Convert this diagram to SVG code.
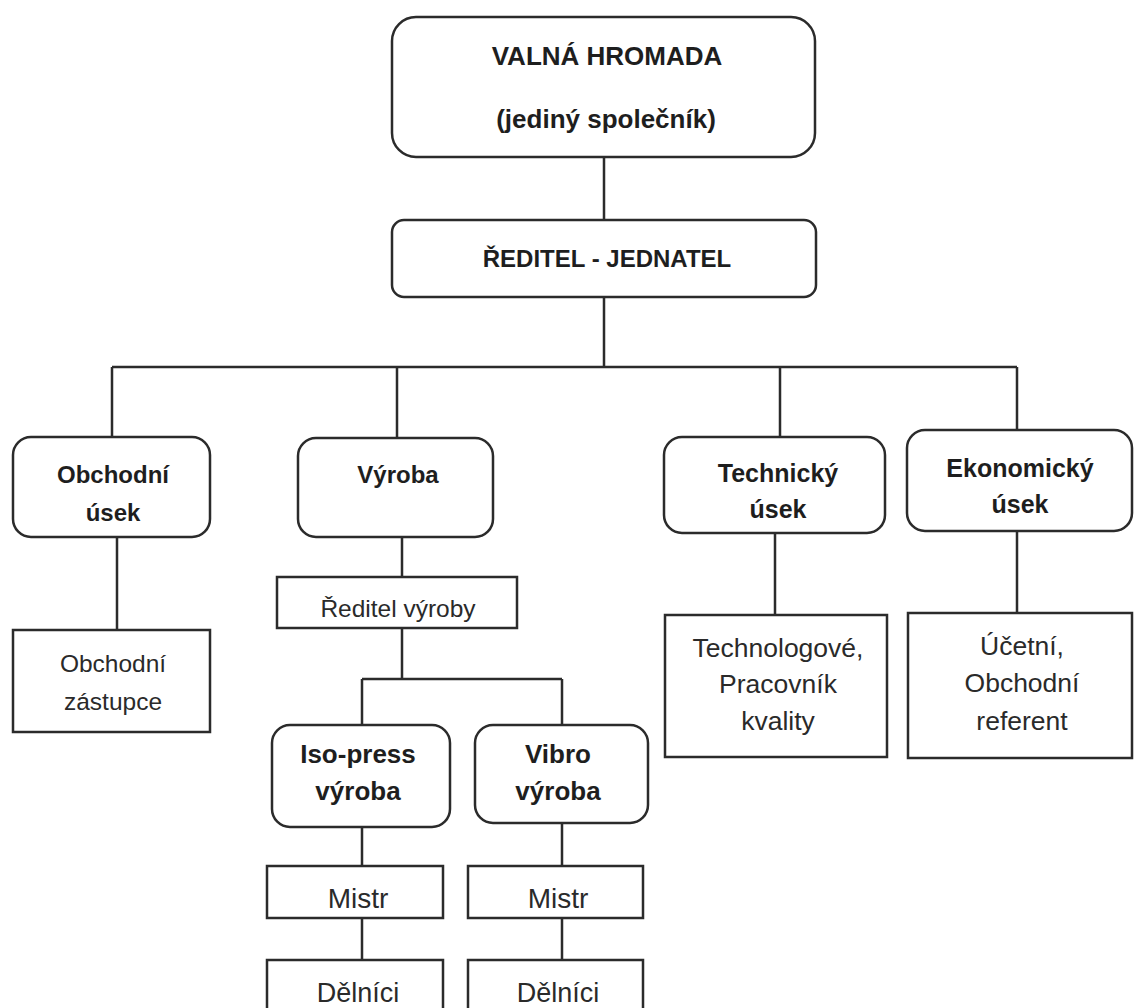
<svg xmlns="http://www.w3.org/2000/svg" width="1135" height="1008" viewBox="0 0 1135 1008">
<style>
.box{fill:#fff;stroke:#2b2b2b;stroke-width:2.5}
.ln{fill:none;stroke:#2b2b2b;stroke-width:2.5}
.b{font-family:"Liberation Sans",Arial,sans-serif;font-weight:bold;font-size:24px;fill:#1e1e1e;text-anchor:middle}
.t{font-family:"Liberation Sans",Arial,sans-serif;font-size:24.5px;fill:#2a2a2a;text-anchor:middle}
.top{font-size:26px}
.mid{font-size:24px}
.bl{font-size:25px}
.bb{font-size:26px}
.tr{font-size:26.5px}
.tm{font-size:28px}
.td{font-size:27px}
</style>
<rect width="1135" height="1008" fill="#fff"/>
<g id="connectors">
<path class="ln" d="M604 157V220 M604 297V367 M112 367H1017 M112 367V437 M397 367V438 M780 367V437 M1017 367V430 M117 537V630 M402 537V577 M402 628V679 M362 679H562 M362 679V725 M562 679V725 M362 827V866 M562 823V866 M362 918V960 M562 918V960 M775 533V615 M1017 531V613"/>
</g>
<g id="valna-hromada">
<rect class="box" x="392" y="17" width="423" height="140" rx="24"/>
<text class="b top" x="607" y="65">VALNÁ HROMADA</text>
<text class="b top" x="606" y="128">(jediný společník)</text>
</g>
<g id="reditel-jednatel">
<rect class="box" x="392" y="220" width="424" height="77" rx="12"/>
<text class="b mid" x="607" y="267">ŘEDITEL - JEDNATEL</text>
</g>
<g id="obchodni-usek">
<rect class="box" x="13" y="437" width="197" height="100" rx="18"/>
<text class="b" x="113" y="483">Obchodní</text>
<text class="b" x="113" y="521">úsek</text>
</g>
<g id="vyroba">
<rect class="box" x="298" y="438" width="195" height="99" rx="18"/>
<text class="b" x="398" y="483">Výroba</text>
</g>
<g id="technicky-usek">
<rect class="box" x="664" y="437" width="221" height="96" rx="18"/>
<text class="b bl" x="778" y="482">Technický</text>
<text class="b bl" x="778" y="518">úsek</text>
</g>
<g id="ekonomicky-usek">
<rect class="box" x="907" y="430" width="225" height="101" rx="18"/>
<text class="b bl" x="1020" y="477">Ekonomický</text>
<text class="b bl" x="1020" y="513">úsek</text>
</g>
<g id="obchodni-zastupce">
<rect class="box" x="13" y="630" width="197" height="102"/>
<text class="t" x="113" y="672">Obchodní</text>
<text class="t" x="113" y="710">zástupce</text>
</g>
<g id="reditel-vyroby">
<rect class="box" x="277" y="577" width="240" height="51"/>
<text class="t" x="398" y="617">Ředitel výroby</text>
</g>
<g id="technologove">
<rect class="box" x="665" y="615" width="222" height="142"/>
<text class="t tr" x="778" y="657">Technologové,</text>
<text class="t tr" x="778" y="693">Pracovník</text>
<text class="t tr" x="778" y="730">kvality</text>
</g>
<g id="ucetni">
<rect class="box" x="908" y="613" width="224" height="145"/>
<text class="t tr" x="1022" y="655">Účetní,</text>
<text class="t tr" x="1022" y="692">Obchodní</text>
<text class="t tr" x="1022" y="730">referent</text>
</g>
<g id="iso-press">
<rect class="box" x="272" y="725" width="178" height="102" rx="18"/>
<text class="b bb" x="358" y="763">Iso-press</text>
<text class="b bb" x="358" y="800">výroba</text>
</g>
<g id="vibro">
<rect class="box" x="475" y="725" width="173" height="98" rx="18"/>
<text class="b bb" x="558" y="763">Vibro</text>
<text class="b bb" x="558" y="800">výroba</text>
</g>
<g id="mistr-1">
<rect class="box" x="267" y="866" width="176" height="52"/>
<text class="t tm" x="358" y="908">Mistr</text>
</g>
<g id="mistr-2">
<rect class="box" x="468" y="866" width="175" height="52"/>
<text class="t tm" x="558" y="908">Mistr</text>
</g>
<g id="delnici-1">
<rect class="box" x="267" y="960" width="176" height="60"/>
<text class="t td" x="358" y="1002">Dělníci</text>
</g>
<g id="delnici-2">
<rect class="box" x="468" y="960" width="175" height="60"/>
<text class="t td" x="558" y="1002">Dělníci</text>
</g>
</svg>
